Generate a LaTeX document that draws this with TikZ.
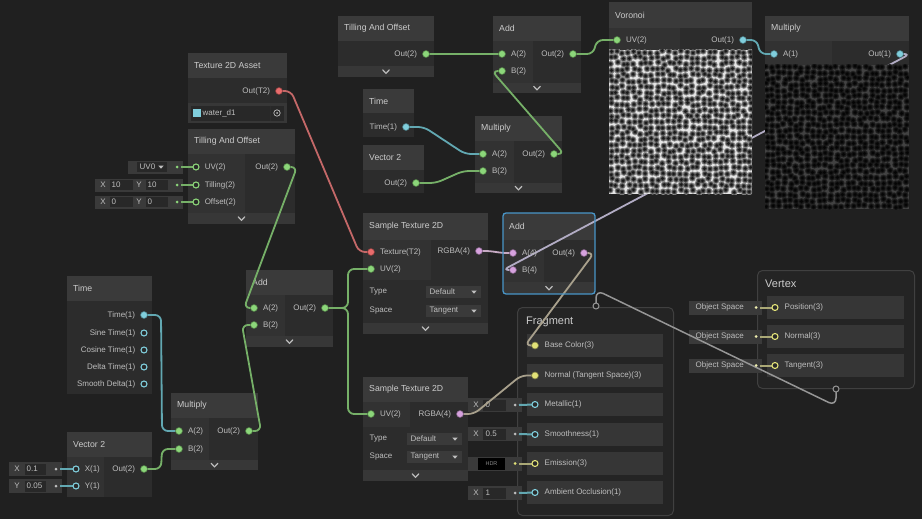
\documentclass[tikz,border=0pt]{standalone}
\usepackage{fontspec}
\setmainfont{Liberation Sans}

\definecolor{canvas}{RGB}{32,32,32}
\definecolor{headcol}{RGB}{58,58,58}
\definecolor{incol}{RGB}{50,50,50}
\definecolor{outcol}{RGB}{44,44,44}
\definecolor{barcol}{RGB}{55,55,55}
\definecolor{fieldbg}{RGB}{58,58,58}
\definecolor{fieldin}{RGB}{40,40,40}
\definecolor{txt}{RGB}{190,190,190}
\definecolor{htxt}{RGB}{204,204,204}
\definecolor{gport}{RGB}{140,214,122}
\definecolor{gwire}{RGB}{118,176,104}
\definecolor{cport}{RGB}{128,206,220}
\definecolor{cwire}{RGB}{98,168,178}
\definecolor{rport}{RGB}{232,108,108}
\definecolor{rwire}{RGB}{196,104,104}
\definecolor{pport}{RGB}{214,162,222}
\definecolor{pwire}{RGB}{198,170,196}
\definecolor{yport}{RGB}{226,226,120}
\definecolor{ywire}{RGB}{170,168,118}
\definecolor{lwire}{RGB}{178,172,196}
\definecolor{mwire}{RGB}{168,160,140}
\definecolor{flowcol}{RGB}{150,150,150}
\definecolor{selcol}{RGB}{72,150,200}
\definecolor{ctxline}{RGB}{64,64,64}
\definecolor{ctxfill}{RGB}{36,36,36}
\definecolor{blockcol}{RGB}{54,54,54}

\pgfdeclarelayer{wires}
\pgfdeclarelayer{front}
\pgfsetlayers{main,wires,front}

\newcommand\lblfont{\fontsize{8}{9}\selectfont}
\newcommand\hfont{\fontsize{8.7}{10}\selectfont}
\newcommand\ctxfont{\fontsize{11}{13}\selectfont}

\tikzset{
  nbody/.style={fill=outcol, anchor=north west, inner sep=0, outer sep=0},
  htext/.style={anchor=west, text=htxt, font=\hfont, inner sep=0},
  lbl/.style={text=txt, font=\lblfont, inner sep=0.5pt},
  rl/.style={lbl, xshift=4.5pt},
  ll/.style={lbl, xshift=-4.5pt},
  fullport/.style={circle, fill=#1, draw=#1!55!black, line width=0.6pt, inner sep=0, minimum size=7pt},
  openport/.style={circle, draw=#1, fill=fieldin, line width=1.1pt, inner sep=0, minimum size=6pt},
  flowport/.style={circle, draw=flowcol, fill=canvas, line width=1pt, inner sep=0, minimum size=6pt},
  fdot/.style={circle, fill=#1, inner sep=0, minimum size=3pt},
  wire/.style={draw=#1, line width=1.8pt, rounded corners=6pt},
  stub/.style={draw=#1, line width=2pt},
  chevron/.style={draw=txt, line width=1.1pt},
  ctx/.style={draw=ctxline, fill=ctxfill, line width=1pt, rounded corners=5pt, anchor=north west, inner sep=0},
  block/.style={fill=blockcol, anchor=north west, inner sep=0, minimum width=136, minimum height=23},
}

% node body: [header height]{name}{x1}{y1}{x2}{y2}{title}
\newcommand\shbox[7][25]{%
  \node[nbody, minimum width={#5-#3}, minimum height={#6-#4}] (#2) at (#3,#4) {};
  \fill[headcol] (#3,#4) rectangle (#5,{#4+#1});
  \node[htext] (#2title) at ({#3+6},{#4+#1/2}) {#7};}
\newcommand\chevbar[4]{%
  \fill[barcol] (#1,#2) rectangle (#3,#4);
  \pgfmathsetmacro\chx{(#1+#3)/2}\pgfmathsetmacro\chy{(#2+#4)/2}
  \draw[chevron] ({\chx-3.5},{\chy-1.8}) -- (\chx,{\chy+1.8}) -- ({\chx+3.5},{\chy-1.8});}
\newcommand\ddtri[2]{\fill[txt] ({#1-2.6},{#2-1.3}) -- ({#1+2.6},{#2-1.3}) -- (#1,{#2+1.7}) -- cycle;}
\newcommand\dropdown[5]{%
  \fill[fieldbg] (#2,{#3-6}) rectangle (#4,{#3+6});
  \node[lbl, anchor=west] (#1) at ({#2+3},#3) {#5};
  \ddtri{#4-7}{#3}}
\newcommand\xyfield[4]{%
  \fill[fieldbg] (95,{#2-6.5}) rectangle (183,{#2+6.5});
  \fill[fieldin] (110,{#2-5}) rectangle (133,{#2+5});
  \fill[fieldin] (146,{#2-5}) rectangle (168,{#2+5});
  \node[lbl] (#1xl) at (103,#2) {X};
  \node[lbl] (#1yl) at (139,#2) {Y};
  \node[lbl, anchor=west] (#1xv) at (111,#2) {#3};
  \node[lbl, anchor=west] (#1yv) at (147,#2) {#4};}
\newcommand\xfield[3]{%
  \fill[fieldbg] (468,{#2-7}) rectangle (522,{#2+7});
  \node[lbl] (#1xl) at (476,#2) {X};
  \fill[fieldin] (483,{#2-5.5}) rectangle (506,{#2+5.5});
  \node[lbl, anchor=west] (#1xv) at (485,#2) {#3};}
\newcommand\osfield[2]{%
  \fill[fieldbg] (689,{#2-7}) rectangle (762,{#2+7});
  \node[lbl, anchor=west] (#1) at (695,#2) {Object Space};}
\newcommand\ctxblock[6]{%
  \node[block, minimum width=#6] (#1) at (#2,#3) {};
  \node[lbl, anchor=west] (#1t) at ({#2+17},{#3+11.5}) {#4};
  \begin{pgfonlayer}{front}\node[#5] (#1p) at ({#2+8},{#3+11.5}) {};\end{pgfonlayer}}
\newcommand\wire[4][10]{\draw[wire=#2] (#3.center) -- ++(#1,0) -- ([xshift=-#1pt]#4.center) -- (#4.center);}
% voronoi-like preview: {x}{y}{seed}{radius}
\newcommand\cells[4]{\pgfmathsetseed{#3}%
  \fill \foreach \i in {0,...,24} {\foreach \j in {0,...,24} {({#1+2+\i*5.8+1.4*rand},{#2+2+\j*5.8+1.4*rand}) circle (#4)}};}

\begin{document}
\begin{tikzpicture}[x=1pt, y=-1pt, every node/.style={font=\lblfont}]
\useasboundingbox (0,0) rectangle (922,519);
\fill[canvas] (0,0) rectangle (922,519);

% Texture 2D Asset
\shbox{texA}{188}{53}{287}{123}{Texture 2D Asset}
\fill[barcol] (188,103) rectangle (287,123);
\fill[fieldin] (191,106) rectangle (284,121);
\fill[cport] (193,109) rectangle (201,117);
\node[lbl, anchor=west] (texAname) at (202,113) {water\_d1};
\draw[outcol, line width=1pt] (270,106) -- (270,121);
\draw[txt, line width=0.7pt] (277,113) circle (3.2);
\fill[txt] (277,113) circle (1);

% Tilling And Offset (left) and its inline values
\shbox{tilL}{188}{129}{295}{224}{Tilling And Offset}
\fill[incol] (188,154) rectangle (245,213);
\chevbar{188}{213}{295}{224}
\fill[fieldbg] (128,160.5) rectangle (183,173.5);
\fill[fieldin] (137,162) rectangle (167,172);
\node[lbl, anchor=west] (tilLuvv) at (139,167) {UV0};
\ddtri{161}{167}
\xyfield{tilLt}{185}{10}{10}
\xyfield{tilLo}{202}{0}{0}

% Time (left)
\shbox{timeL}{67}{276}{152}{394}{Time}

% Vector 2 (left)
\shbox{vecL}{67}{432}{152}{497}{Vector 2}
\fill[incol] (67,457) rectangle (104,497);
\fill[fieldbg] (9,462) rectangle (62,476);
\node[lbl] (vecLxl) at (17,469) {X};
\fill[fieldin] (25,463.5) rectangle (46,474.5);
\node[lbl, anchor=west] (vecLxv) at (26,469) {0.1};
\fill[fieldbg] (9,479) rectangle (62,493);
\node[lbl] (vecLyl) at (17,486) {Y};
\fill[fieldin] (25,480.5) rectangle (46,491.5);
\node[lbl, anchor=west] (vecLyv) at (26,486) {0.05};

% Multiply (left)
\shbox{mulL}{171}{393}{258}{470}{Multiply}
\fill[incol] (171,418) rectangle (209,460);
\chevbar{171}{460}{258}{470}

% Add (left)
\shbox{addL}{246}{270}{333}{347}{Add}
\fill[incol] (246,295) rectangle (285,336);
\chevbar{246}{336}{333}{347}

% Tilling And Offset (top)
\shbox{tilT}{338}{16}{434}{77}{Tilling And Offset}
\chevbar{338}{66}{434}{77}

% Add (top)
\shbox{addT}{493}{16}{581}{93}{Add}
\fill[incol] (493,41) rectangle (533,83);
\chevbar{493}{83}{581}{93}

% Time, Vector 2 and Multiply (middle)
\shbox[24]{timeM}{363}{89}{414}{137}{Time}
\shbox{vecM}{363}{145}{424}{193}{Vector 2}
\shbox{mulM}{475}{116}{562}{193}{Multiply}
\fill[incol] (475,141) rectangle (514,183);
\chevbar{475}{183}{562}{193}

% Voronoi and Multiply (right)
\shbox[26]{voro}{609}{2}{752}{194}{Voronoi}
\fill[incol] (609,28) rectangle (680,50);
\shbox{mulR}{765}{16}{909}{209}{Multiply}
\fill[incol] (765,41) rectangle (832,65);

% Sample Texture 2D (upper)
\shbox[27]{stU}{363}{213}{488}{334}{Sample Texture 2D}
\fill[incol] (363,240) rectangle (431,280);
\node[lbl, anchor=west] (stUtype) at (369,292) {Type};
\dropdown{stUdef}{426}{292}{481}{Default}
\node[lbl, anchor=west] (stUspace) at (369,311) {Space};
\dropdown{stUtan}{426}{311}{481}{Tangent}
\chevbar{363}{323}{488}{334}

% Add (selected)
\shbox[27]{addH}{503}{213}{595}{294}{Add}
\fill[incol] (503,240) rectangle (544,282);
\chevbar{503}{282}{595}{294}

% Sample Texture 2D (lower)
\shbox{stL}{363}{377}{468}{481}{Sample Texture 2D}
\fill[incol] (363,402) rectangle (410,427);
\node[lbl, anchor=west] (stLtype) at (369,439) {Type};
\dropdown{stLdef}{407}{439}{462}{Default}
\node[lbl, anchor=west] (stLspace) at (369,457) {Space};
\dropdown{stLtan}{407}{457}{462}{Tangent}
\chevbar{363}{470}{468}{481}

% Fragment context
\node[ctx, minimum width=156, minimum height=208] (frag) at (517,307) {};
\node[htext, font=\ctxfont] (fragt) at (526,322) {Fragment};
\ctxblock{fbase}{527}{334}{Base Color(3)}{fullport=yport}{136}
\ctxblock{fnorm}{527}{364}{Normal (Tangent Space)(3)}{fullport=yport}{136}
\ctxblock{fmet}{527}{393}{Metallic(1)}{openport=cport}{136}
\ctxblock{fsmo}{527}{423}{Smoothness(1)}{openport=cport}{136}
\ctxblock{femi}{527}{452}{Emission(3)}{openport=yport}{136}
\ctxblock{fao}{527}{481}{Ambient Occlusion(1)}{openport=cport}{136}
\xfield{fmetf}{405}{0}
\xfield{fsmof}{434}{0.5}
\fill[fieldbg] (468,456.5) rectangle (522,470.5);
\fill[black] (478,457.5) rectangle (505,469.5);
\node[font=\fontsize{5.5}{6}\selectfont, text=black!45, inner sep=0] (femih) at (491.5,463.5) {HDR};
\xfield{faof}{493}{1}

% Vertex context
\node[ctx, minimum width=157, minimum height=118] (vert) at (757,270) {};
\node[htext, font=\ctxfont] (vertt) at (765,284) {Vertex};
\ctxblock{vpos}{767}{296}{Position(3)}{openport=yport}{137}
\ctxblock{vnor}{767}{325}{Normal(3)}{openport=yport}{137}
\ctxblock{vtan}{767}{354}{Tangent(3)}{openport=yport}{137}
\osfield{vposf}{307.5}
\osfield{vnorf}{336.5}
\osfield{vtanf}{365.5}

\begin{pgfonlayer}{front}
% previews
\begin{scope}
  \clip (609,50) rectangle (752,194);
  \fill[black!10] (609,50) rectangle (752,194);
  \begin{scope}[black!45] \cells{609}{50}{11}{3.4} \end{scope}
  \begin{scope}[black!72] \cells{609}{50}{11}{2.4} \end{scope}
  \begin{scope}[black!90] \cells{609}{50}{11}{1.5} \end{scope}
\end{scope}
\begin{scope}
  \clip (765,65) rectangle (909,209);
  \fill[black!74] (765,65) rectangle (909,209);
  \begin{scope}[black!86] \cells{765}{65}{23}{3.4} \end{scope}
  \begin{scope}[black!93] \cells{765}{65}{23}{2.4} \end{scope}
  \begin{scope}[black!98] \cells{765}{65}{23}{1.5} \end{scope}
\end{scope}
\draw[selcol, line width=1.3pt, rounded corners=3pt] (503,213) rectangle (595,294);

% ports
\node[fullport=rport, label={[ll]left:Out(T2)}] (texAout) at (279,91) {};
\node[openport=gport, label={[rl]right:UV(2)}] (tilLuv) at (196,167) {};
\node[openport=gport, label={[rl]right:Tilling(2)}] (tilLtil) at (196,185) {};
\node[openport=gport, label={[rl]right:Offset(2)}] (tilLoff) at (196,202) {};
\node[fullport=gport, label={[ll]left:Out(2)}] (tilLout) at (287,167) {};
\node[fdot=gport] (tilLuvd) at (177,167) {};
\node[fdot=gport] (tilLtild) at (177,185) {};
\node[fdot=gport] (tilLoffd) at (177,202) {};

\node[fullport=cport, label={[ll]left:Time(1)}] (timeLt) at (144,315) {};
\node[openport=cport, label={[ll]left:Sine Time(1)}] (timeLs) at (144,333) {};
\node[openport=cport, label={[ll]left:Cosine Time(1)}] (timeLc) at (144,350) {};
\node[openport=cport, label={[ll]left:Delta Time(1)}] (timeLd) at (144,367) {};
\node[openport=cport, label={[ll]left:Smooth Delta(1)}] (timeLsd) at (144,384) {};

\node[openport=cport, label={[rl]right:X(1)}] (vecLx) at (76,469) {};
\node[openport=cport, label={[rl]right:Y(1)}] (vecLy) at (76,486) {};
\node[fullport=gport, label={[ll]left:Out(2)}] (vecLout) at (144,469) {};
\node[fdot=txt] (vecLxd) at (56,469) {};
\node[fdot=txt] (vecLyd) at (56,486) {};

\node[fullport=gport, label={[rl]right:A(2)}] (mulLa) at (179,431) {};
\node[fullport=gport, label={[rl]right:B(2)}] (mulLb) at (179,449) {};
\node[fullport=gport, label={[ll]left:Out(2)}] (mulLout) at (249,431) {};

\node[fullport=gport, label={[rl]right:A(2)}] (addLa) at (254,308) {};
\node[fullport=gport, label={[rl]right:B(2)}] (addLb) at (254,325) {};
\node[fullport=gport, label={[ll]left:Out(2)}] (addLout) at (325,308) {};

\node[fullport=gport, label={[ll]left:Out(2)}] (tilTout) at (426,54) {};
\node[fullport=gport, label={[rl]right:A(2)}] (addTa) at (502,54) {};
\node[fullport=gport, label={[rl]right:B(2)}] (addTb) at (502,71) {};
\node[fullport=gport, label={[ll]left:Out(2)}] (addTout) at (573,54) {};

\node[fullport=cport, label={[ll]left:Time(1)}] (timeMt) at (406,127) {};
\node[fullport=gport, label={[ll]left:Out(2)}] (vecMout) at (416,183) {};
\node[fullport=gport, label={[rl]right:A(2)}] (mulMa) at (483,154) {};
\node[fullport=gport, label={[rl]right:B(2)}] (mulMb) at (483,171) {};
\node[fullport=gport, label={[ll]left:Out(2)}] (mulMout) at (554,154) {};

\node[fullport=gport, label={[rl]right:UV(2)}] (voroUv) at (617,40) {};
\node[fullport=cport, label={[ll]left:Out(1)}] (voroOut) at (743,40) {};
\node[fullport=cport, label={[rl]right:A(1)}] (mulRa) at (774,54) {};
\node[fullport=cport, label={[ll]left:Out(1)}] (mulRout) at (900,54) {};

\node[fullport=rport, label={[rl]right:Texture(T2)}] (stUtex) at (371,252) {};
\node[fullport=gport, label={[rl]right:UV(2)}] (stUuv) at (371,269) {};
\node[fullport=pport, label={[ll]left:RGBA(4)}] (stUrgba) at (479,251) {};

\node[fullport=pport, label={[rl]right:A(4)}] (addHa) at (513,253) {};
\node[fullport=pport, label={[rl]right:B(4)}] (addHb) at (513,270) {};
\node[fullport=pport, label={[ll]left:Out(4)}] (addHout) at (584,253) {};

\node[fullport=gport, label={[rl]right:UV(2)}] (stLuv) at (371,414) {};
\node[fullport=pport, label={[ll]left:RGBA(4)}] (stLrgba) at (460,414) {};

\node[fdot=txt] (fmetd) at (515,405) {};
\node[fdot=txt] (fsmod) at (515,434) {};
\node[fdot=yport] (femid) at (515,463.5) {};
\node[fdot=txt] (faod) at (515,493) {};
\node[fdot=yport!60!white] (vposd) at (756,307.5) {};
\node[fdot=yport!60!white] (vnord) at (756,336.5) {};
\node[fdot=yport!60!white] (vtand) at (756,365.5) {};

\node[flowport] (fflow) at (596,306) {};
\node[flowport] (vflow) at (836,389) {};
\end{pgfonlayer}

\begin{pgfonlayer}{wires}
% connections
\wire[12]{rwire}{texAout}{stUtex}
\wire{gwire}{tilLout}{addLa}
\wire[12]{gwire}{mulLout}{addLb}
\wire[17]{cwire}{timeLt}{mulLa}
\wire[17]{gwire}{vecLout}{mulLb}
\wire[23]{gwire}{addLout}{stUuv}
\wire[23]{gwire}{addLout}{stLuv}
\wire{gwire}{tilTout}{addTa}
\wire[20]{gwire}{addTout}{voroUv}
\wire[18]{cwire}{timeMt}{mulMa}
\wire[20]{gwire}{vecMout}{mulMb}
\wire{gwire}{mulMout}{addTb}
\wire[14]{cwire}{voroOut}{mulRa}
\wire{lwire}{mulRout}{addHb}
\wire[12]{pwire}{stUrgba}{addHa}
\wire{mwire}{addHout}{fbasep}
\wire[14]{mwire}{stLrgba}{fnormp}
\draw[wire=flowcol, line width=1.5pt, rounded corners=8pt] (fflow.center) -- ([yshift=16pt]fflow.center) -- ([yshift=-17pt]vflow.center) -- (vflow.center);

% inline value stubs
\draw[stub=gwire] ([xshift=4pt]tilLuvd.center) -- (tilLuv.center);
\draw[stub=gwire] ([xshift=4pt]tilLtild.center) -- (tilLtil.center);
\draw[stub=gwire] ([xshift=4pt]tilLoffd.center) -- (tilLoff.center);
\draw[stub=cwire] ([xshift=4pt]vecLxd.center) -- (vecLx.center);
\draw[stub=cwire] ([xshift=4pt]vecLyd.center) -- (vecLy.center);
\draw[stub=cwire] ([xshift=4pt]fmetd.center) -- (fmetp.center);
\draw[stub=cwire] ([xshift=4pt]fsmod.center) -- (fsmop.center);
\draw[stub=ywire] ([xshift=4pt]femid.center) -- (femip.center);
\draw[stub=cwire] ([xshift=4pt]faod.center) -- (faop.center);
\draw[stub=ywire] ([xshift=4pt]vposd.center) -- (vposp.center);
\draw[stub=ywire] ([xshift=4pt]vnord.center) -- (vnorp.center);
\draw[stub=ywire] ([xshift=4pt]vtand.center) -- (vtanp.center);
\end{pgfonlayer}
\end{tikzpicture}
\end{document}
